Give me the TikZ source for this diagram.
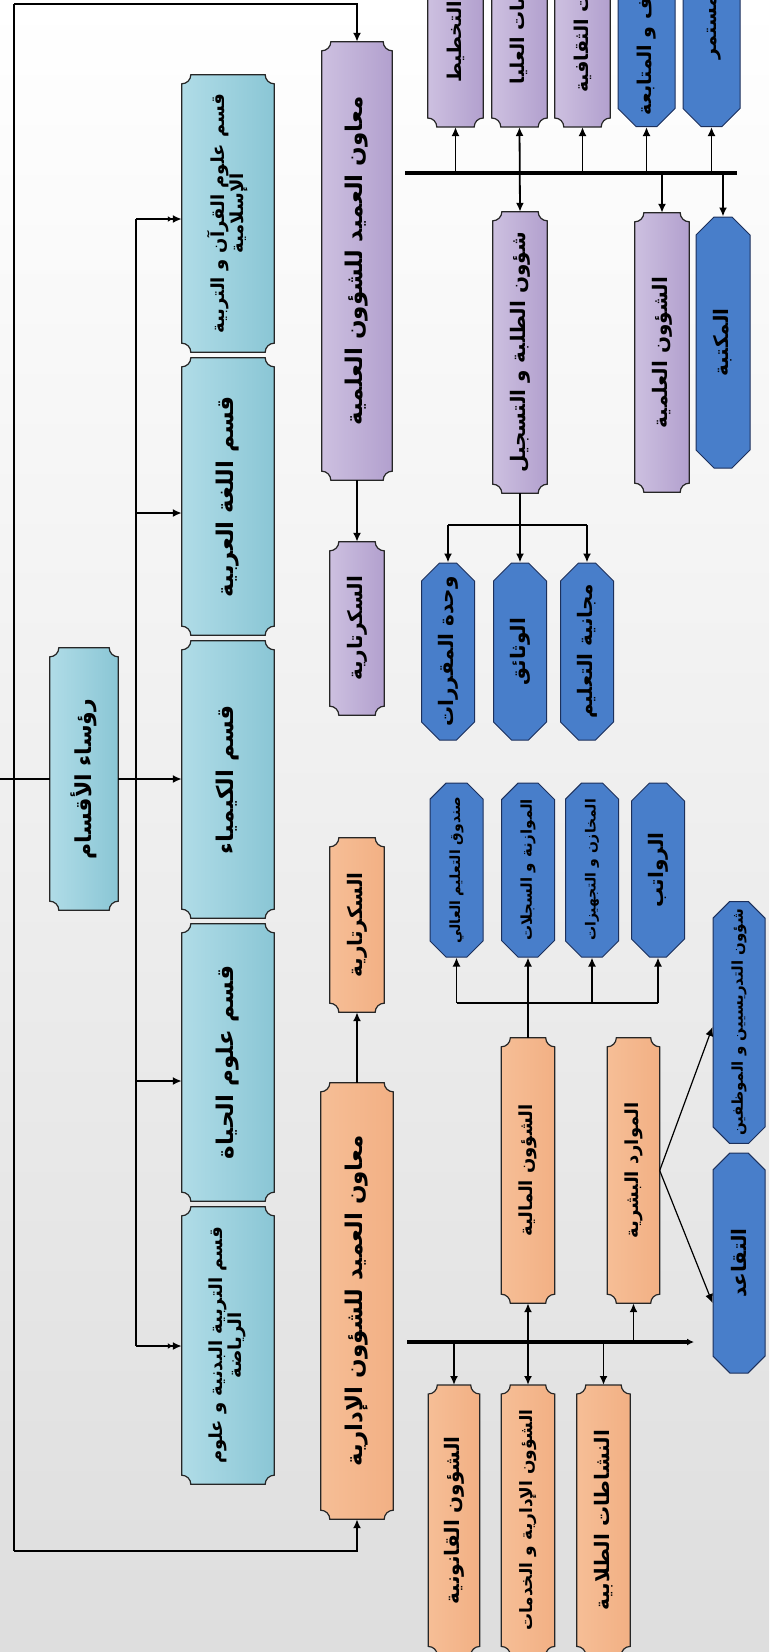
\documentclass[tikz,border=0pt]{standalone}
\usepackage{fontspec}
\usepackage{graphicx}
\usetikzlibrary{shapes.misc,arrows.meta,calc}
\newfontfamily\arabicfont[Script=Arabic]{DejaVu Sans}
\TeXXeTstate=1
\newcommand\artext[1]{\rotatebox{90}{\arabicfont\beginR #1\endR}}
\newcommand\artwo[2]{\rotatebox{90}{\arabicfont\begin{tabular}{@{}c@{}}\beginR #1\endR\\ \beginR #2\endR\end{tabular}}}
\definecolor{deptL}{RGB}{176,220,231}
\definecolor{deptM}{RGB}{228,244,248}
\definecolor{deptR}{RGB}{138,198,213}
\definecolor{sciL}{RGB}{205,192,224}
\definecolor{sciM}{RGB}{238,233,245}
\definecolor{sciR}{RGB}{178,160,206}
\definecolor{admL}{RGB}{246,190,150}
\definecolor{admM}{RGB}{253,231,212}
\definecolor{admR}{RGB}{242,176,132}
\definecolor{leafblue}{RGB}{72,126,202}
\definecolor{leafedge}{RGB}{28,48,92}
\pgfdeclarelayer{bg}
\pgfsetlayers{bg,main}

\begin{document}
\begin{tikzpicture}[x=1pt,y=1pt,
    box/.style={rectangle, inner sep=0pt,
      font=\fontsize{20}{23}\selectfont\bfseries},
    sz/.style 2 args={minimum width=#1pt, minimum height=#2pt},
    fs/.style={font=\fontsize{#1}{#1}\selectfont\bfseries},
    dept/.style={box, fs=23},
    sci/.style={box},
    adm/.style={box},
    leaf/.style={box, chamfered rectangle, chamfered rectangle sep=9pt,
      fill=leafblue, draw=leafedge, line width=1pt},
    deptshade/.style={left color=deptL, middle color=deptM, right color=deptR},
    scishade/.style={left color=sciL, middle color=sciM, right color=sciR},
    admshade/.style={left color=admL, middle color=admM, right color=admR},
    line/.style={line width=2.4pt},
    link/.style={line width=1.8pt, -{Latex[length=9pt,width=8pt]}},
    both/.style={line width=1.8pt, {Latex[length=9pt,width=8pt]}-{Latex[length=9pt,width=8pt]}},
    twin/.style={line width=1.8pt, -{Latex[length=5pt,width=6pt] Latex[length=9pt,width=8pt]}},
    bus/.style={line width=4.5pt}
  ]
  % background
  \begin{pgfonlayer}{bg}
    \fill[top color=white, bottom color=black!13] (0,0) rectangle (769,-1652);
  \end{pgfonlayer}
  \useasboundingbox (0,0) rectangle (769,-1652);
  \clip (0,0) rectangle (769,-1652);

  % departments
  \node[dept, sz={92}{277}, fs=18] (quran) at (228,-213.5) {\artwo{قسم علوم القرآن و التربية}{الإسلامية}};
  \node[dept, sz={92}{277}] (arabic) at (228,-496.5) {\artext{قسم اللغة العربية}};
  \node[dept, sz={92}{277}] (chem) at (228,-779.5) {\artext{قسم الكيمياء}};
  \node[dept, sz={92}{277}] (life) at (228,-1062.5) {\artext{قسم علوم الحياة}};
  \node[dept, sz={92}{277}, fs=18] (pe) at (228,-1345.5) {\artwo{قسم التربية البدنية و علوم}{الرياضة}};
  \node[dept, sz={68}{262}, fs=22] (heads) at (84,-779) {\artext{رؤساء الأقسام}};

  % assistant deans
  \node[sci, sz={70}{438}, fs=23] (sci) at (357,-261) {\artext{معاون العميد للشؤون العلمية}};
  \node[adm, sz={72}{436}, fs=23] (adm) at (357,-1301) {\artext{معاون العميد للشؤون الإدارية}};
  \node[sci, sz={54}{173}] (scisec) at (357,-628.5) {\artext{السكرتارية}};
  \node[adm, sz={54}{174}] (admsec) at (357,-925) {\artext{السكرتارية}};

  % scientific affairs
  \node[sci, sz={55}{170}, fs=19, anchor=south] (plan) at (455.5,-127) {\artext{التخطيط}};
  \node[sci, sz={55}{226}, fs=19, anchor=south] (grad) at (519.5,-127) {\artext{الدراسات العليا}};
  \node[sci, sz={55}{226}, fs=19, anchor=south] (cult) at (582.5,-127) {\artext{العلاقات الثقافية}};
  \node[leaf, sz={57}{198}, fs=19, anchor=south] (follow) at (646.5,-127) {\artext{الإشراف و المتابعة}};
  \node[leaf, sz={57}{282}, fs=19, anchor=south] (cont) at (711.5,-127) {\artext{التعليم المستمر}};
  \node[sci, sz={54}{281}] (stud) at (520,-352.5) {\artext{شؤون الطلبة و التسجيل}};
  \node[sci, sz={54}{279}] (acad) at (662,-352.5) {\artext{الشؤون العلمية}};
  \node[leaf, sz={54}{251}] (lib) at (723,-342.5) {\artext{المكتبة}};
  \node[leaf, sz={53}{177}] (courses) at (448,-651.5) {\artext{وحدة المقررات}};
  \node[leaf, sz={53}{177}] (docs) at (520,-651.5) {\artext{الوثائق}};
  \node[leaf, sz={53}{177}] (free) at (587,-651.5) {\artext{مجانية التعليم}};

  % administrative affairs
  \node[leaf, sz={53}{174}, fs=14] (fund) at (456.5,-870) {\artext{صندوق التعليم العالي}};
  \node[leaf, sz={53}{174}, fs=15] (budget) at (528,-870) {\artext{الموازنة و السجلات}};
  \node[leaf, sz={53}{174}, fs=14] (store) at (592,-870) {\artext{المخازن و التجهيزات}};
  \node[leaf, sz={53}{174}] (pay) at (658,-870) {\artext{الرواتب}};
  \node[adm, sz={53}{265}, fs=18] (fin) at (528,-1170.5) {\artext{الشؤون المالية}};
  \node[adm, sz={52}{265}, fs=18] (hr) at (633.5,-1170.5) {\artext{الموارد البشرية}};
  \node[leaf, sz={52}{229}, fs=15] (staff) at (739,-1022.5) {\artext{شؤون التدريسيين و الموظفين}};
  \node[leaf, sz={52}{220}] (retire) at (739,-1263) {\artext{التقاعد}};
  \node[adm, sz={51}{270}, anchor=north] (legal) at (454,-1385) {\artext{الشؤون القانونية}};
  \node[adm, sz={53}{270}, fs=17, anchor=north] (serv) at (528,-1385) {\artext{الشؤون الإدارية و الخدمات}};
  \node[adm, sz={53}{270}, anchor=north] (act) at (603.5,-1385) {\artext{النشاطات الطلابية}};

  % notched frames behind the light boxes
  \begin{pgfonlayer}{bg}
    \foreach \nd/\sh in {quran/deptshade, arabic/deptshade, chem/deptshade,
        life/deptshade, pe/deptshade, heads/deptshade,
        sci/scishade, scisec/scishade, plan/scishade, grad/scishade,
        cult/scishade, stud/scishade, acad/scishade,
        adm/admshade, admsec/admshade, fin/admshade, hr/admshade,
        legal/admshade, serv/admshade, act/admshade}
      \path[\sh, draw=black!85, line width=1.2pt]
        let \p1=(\nd.south west), \p2=(\nd.north east) in
        (\x1+9pt,\y2) -- (\x2-9pt,\y2) arc[start angle=180, end angle=270, radius=9pt]
        -- (\x2,\y1+9pt) arc[start angle=90, end angle=180, radius=9pt]
        -- (\x1+9pt,\y1) arc[start angle=0, end angle=90, radius=9pt]
        -- (\x1,\y2-9pt) arc[start angle=270, end angle=360, radius=9pt] -- cycle;
  \end{pgfonlayer}

  % outer loop and heads line
  \coordinate (edge) at (0,-779);
  \coordinate (tl) at (14,-4);
  \coordinate (bl) at (14,-1551);
  \draw[line] (tl) -- (bl);
  \draw[link, line width=2.4pt] (tl) -| (sci.north);
  \draw[link, line width=2.4pt] (bl) -| (adm.south);
  \draw[line] (edge) -- (heads.west);
  \draw[link] (heads.east) -- (heads.east -| chem.west);

  % department bus
  \coordinate (b1) at (136,-219);
  \coordinate (b2) at (136,-513);
  \coordinate (b4) at (136,-1081);
  \coordinate (b5) at (136,-1346);
  \draw[line] (b1) -- (b5);
  \draw[twin] (b1) -- (b1 -| quran.west);
  \draw[link] (b2) -- (b2 -| arabic.west);
  \draw[link] (b4) -- (b4 -| life.west);
  \draw[twin] (b5) -- (b5 -| pe.west);

  % secretaries
  \draw[link] (sci.south) -- (scisec.north);
  \draw[link] (adm.north) -- (admsec.south);

  % scientific bus
  \coordinate (sbus) at (405,-173);
  \draw[bus] (sbus) -- (737,-173);
  \draw[link] (plan.south |- sbus) -- (plan.south);
  \draw[both] (grad.south) -- (stud.north);
  \draw[link] (cult.south |- sbus) -- (cult.south);
  \draw[link] (follow.south |- sbus) -- (follow.south);
  \draw[link] (cont.south |- sbus) -- (cont.south);
  \draw[link] (acad.north |- sbus) -- (acad.north);
  \draw[link] (lib.north |- sbus) -- (lib.north);

  % student affairs bracket
  \draw[line] (stud.south) -- ++(0,-32) coordinate (sj);
  \draw[line] (courses.north |- sj) -- (free.north |- sj);
  \draw[link] (courses.north |- sj) -- (courses.north);
  \draw[link] (sj) -- (docs.north);
  \draw[link] (free.north |- sj) -- (free.north);

  % finance bracket
  \draw[line] (fin.north) -- ++(0,35) coordinate (fj);
  \draw[line] (fund.south |- fj) -- (pay.south |- fj);
  \draw[link] (fund.south |- fj) -- (fund.south);
  \draw[link] (fj) -- (budget.south);
  \draw[link] (store.south |- fj) -- (store.south);
  \draw[link] (pay.south |- fj) -- (pay.south);

  % human resources
  \draw[link, line width=1.2pt] (hr.east) -- (staff.west |- 0,-1027);
  \draw[link, line width=1.2pt] (hr.east) -- (retire.west |- 0,-1303);

  % administrative bus
  \coordinate (abus) at (407,-1342);
  \draw[bus, -{Latex[length=7pt,width=7pt]}] (abus) -- (694,-1342);
  \draw[link] (legal.north |- abus) -- (legal.north);
  \draw[both] (fin.south) -- (serv.north);
  \draw[link] (act.north |- abus) -- (act.north);
  \draw[link] (hr.south |- abus) -- (hr.south);
\end{tikzpicture}
\end{document}
